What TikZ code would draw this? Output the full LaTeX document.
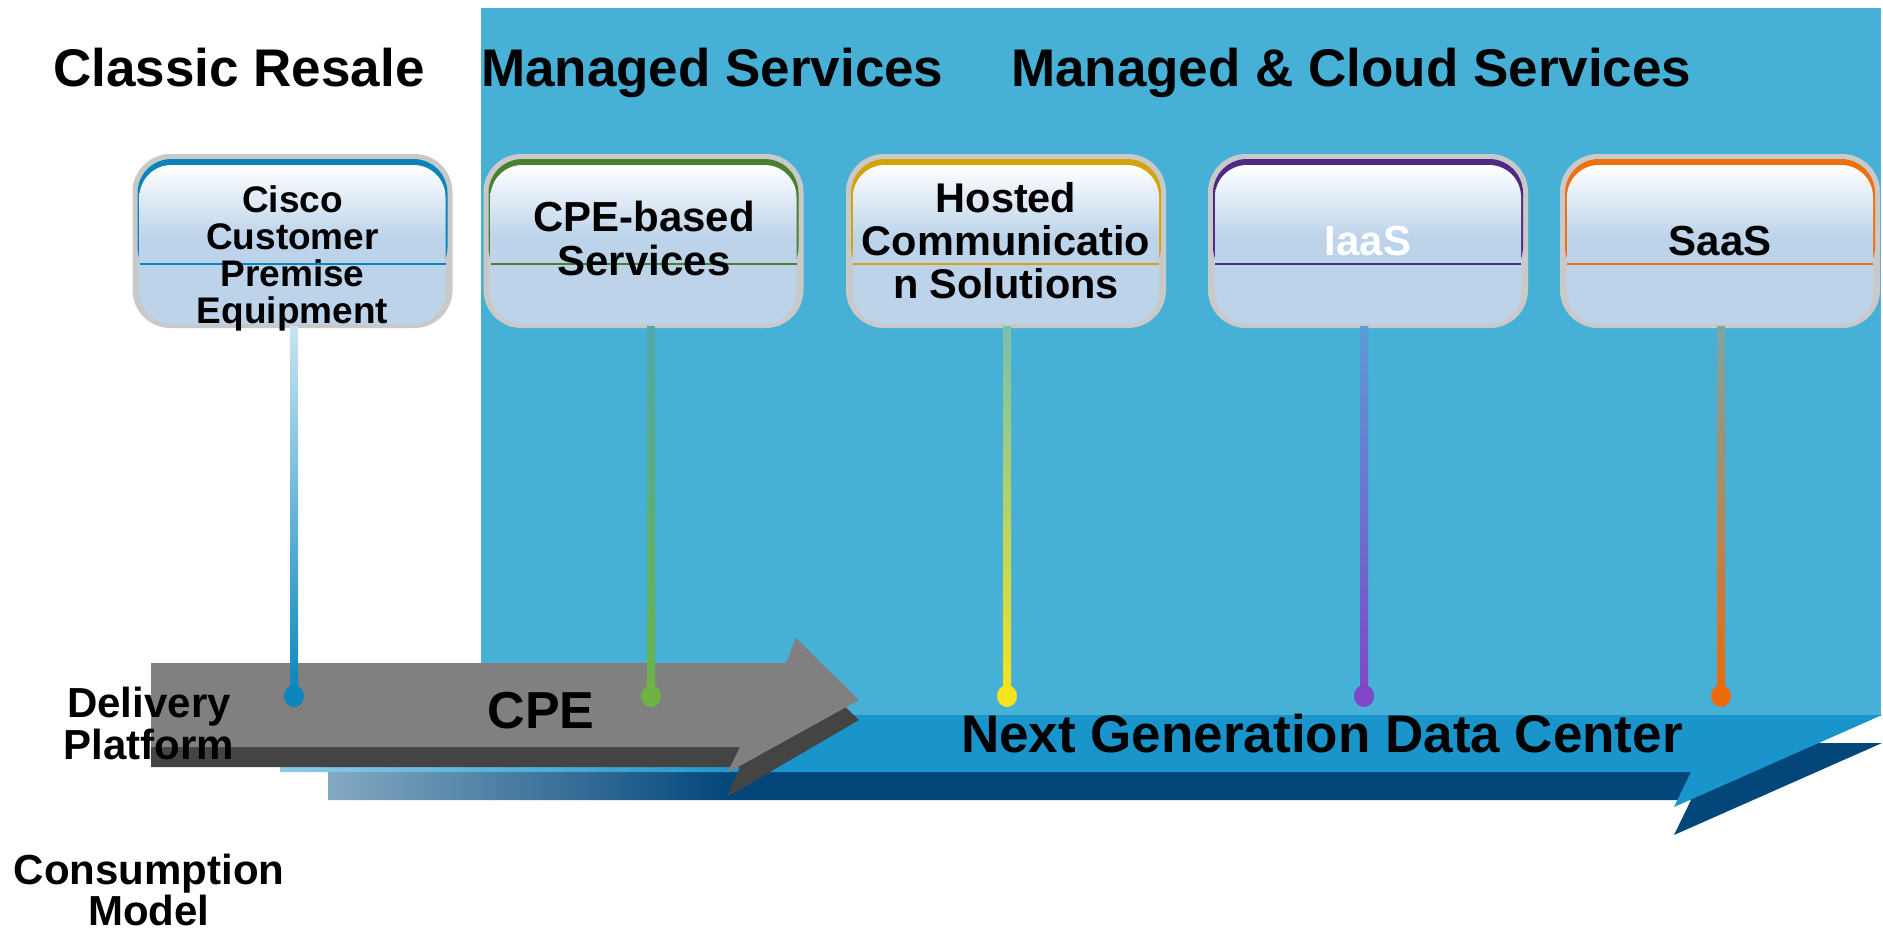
\documentclass[tikz,border=0pt]{standalone}
\usepackage{fontspec}
\setmainfont{Liberation Sans}
\usetikzlibrary{shapes.geometric,calc}

\definecolor{bgblue}{HTML}{46B0D6}
\definecolor{midblue}{HTML}{1A95CB}
\definecolor{lightstrip}{HTML}{8CCBE8}
\definecolor{darkblue}{HTML}{03467A}
\definecolor{fadeblue}{HTML}{84A9C3}
\definecolor{arrgray}{HTML}{808080}
\definecolor{arrdark}{HTML}{444444}
\definecolor{boxgray}{HTML}{C9C9C9}
\definecolor{boxblue}{HTML}{BCD3EA}
\definecolor{cA}{HTML}{0A84BC}
\definecolor{cB}{HTML}{4A8030}
\definecolor{cC}{HTML}{D4A30A}
\definecolor{cD}{HTML}{4E2A84}
\definecolor{cE}{HTML}{F07010}
\definecolor{lAt}{HTML}{C8E5F1}
\definecolor{lAb}{HTML}{0A85BE}
\definecolor{lBt}{HTML}{4FA9A8}
\definecolor{lBb}{HTML}{6CB443}
\definecolor{lCt}{HTML}{78C1AC}
\definecolor{lCb}{HTML}{F6E31C}
\definecolor{lDt}{HTML}{5B9BD6}
\definecolor{lDb}{HTML}{8046C8}
\definecolor{lEt}{HTML}{7CA6A4}
\definecolor{lEb}{HTML}{EC6A0A}

\pgfdeclareverticalshading{boxshade}{100bp}{color(0bp)=(boxblue); color(25bp)=(boxblue); color(52bp)=(boxblue); color(75bp)=(white); color(100bp)=(white)}
\pgfdeclarehorizontalshading{stripfade}{100bp}{color(0bp)=(lightstrip); color(25bp)=(lightstrip); color(40bp)=(midblue); color(100bp)=(midblue)}
\pgfdeclarehorizontalshading{darkfade}{100bp}{color(0bp)=(fadeblue); color(25bp)=(fadeblue); color(38bp)=(darkblue); color(100bp)=(darkblue)}

\newcommand\fs[2]{\fontsize{#1}{#2}\selectfont\bfseries}
\newcommand\stk[1]{\vtop{\halign{\hfil##\hfil\cr#1\crcr}}}

\begin{document}
\begin{tikzpicture}[x=1pt,y=-1pt,
  lbl/.style={inner sep=0pt, outer sep=0pt, anchor=base},
  boxnode/.style={minimum width=320pt, minimum height=174pt, rounded corners=38pt, fill=boxgray, inner sep=0pt, outer sep=0pt},
  dotnode/.style={ellipse, minimum width=20pt, minimum height=22pt, inner sep=0pt}]
\useasboundingbox (0,0) rectangle (1883,932);

% background
\fill[bgblue] (481,8) rectangle (1881,716);

% blue arrow (Next Generation Data Center)
\shade[shading=darkfade] (328,743) -- (1882,743) -- (1674,835) -- (1691,800) -- (328,800) -- cycle;
\shade[shading=stripfade] (280,715) -- (1882,715) -- (1674,807) -- (1691,772) -- (280,772) -- cycle;

% gray arrow (CPE)
\fill[arrdark] (151,685) -- (786,685) -- (796,660) -- (859,720) -- (727,797) -- (740,767) -- (151,767) -- cycle;
\fill[arrgray] (151,663) -- (786,663) -- (796,638) -- (859,700) -- (727,773) -- (740,747) -- (151,747) -- cycle;

% boxes
\foreach \n/\x/\c in {b1/292.5/cA, b2/643.5/cB, b3/1006/cC, b4/1368/cD, b5/1720/cE}{
  \node[boxnode] (\n) at (\x,241) {};
  \fill[\c, rounded corners=34pt] ($(\n.north west)+(5,5)$) rectangle ($(\n.east)+(-5,40)$);
  \shade[shading=boxshade, rounded corners=32pt] ($(\n.north west)+(7,11)$) rectangle ($(\n.south east)+(-7,-4)$);
  \draw[\c, line width=1.2pt] ($(\n.north west)+(7,110)$) -- ($(\n.north east)+(-7,110)$);
}

% connectors
\foreach \i/\x/\t/\b in {1/294/lAt/lAb, 2/651/lBt/lBb, 3/1007/lCt/lCb, 4/1364/lDt/lDb, 5/1721/lEt/lEb}{
  \coordinate (p\i) at (\x,696);
  \shade[top color=\t, bottom color=\b] ($(b\i.south -| p\i)+(-4,-2)$) rectangle ($(p\i)+(4,0)$);
}
\foreach \i/\c in {1/lAb, 2/lBb, 3/lCb, 4/lDb, 5/lEb}{
  \node[dotnode, fill=\c] (d\i) at (p\i) {};
}

% box texts
\node[lbl, font={\fs{37}{37.3}}] (t1) at (292.5,212) {\stk{Cisco\cr Customer\cr Premise\cr Equipment}};
\node[lbl, font={\fs{42}{44}}] (t2) at (644,231) {\stk{CPE-based\cr Services}};
\node[lbl, font={\fs{41.5}{43}}] (t3) at (1006,212) {\stk{Hosted\cr Communicatio\cr n Solutions}};
\node[lbl, font={\fs{42}{44}}, text=white] (t4) at (1368,255) {IaaS};
\node[lbl, font={\fs{42}{44}}] (t5) at (1720,255) {SaaS};

% headings
\node[lbl, font={\fs{53}{56}}] (h1) at (239,86) {Classic Resale};
\node[lbl, font={\fs{53}{56}}, anchor=base west] (h2) at (481,86) {Managed Services};
\node[lbl, font={\fs{53}{56}}, anchor=base west] (h3) at (1011,86) {Managed \& Cloud Services};

% arrow labels
\node[lbl, font={\fs{52}{56}}] (cpe) at (541,728) {CPE};
\node[lbl, font={\fs{53}{56}}] (ngdc) at (1322,752) {Next Generation Data Center};

% side labels
\node[lbl, font={\fs{42}{42}}] (dp) at (149,717) {\stk{Delivery\cr Platform}};
\node[lbl, font={\fs{42}{41}}] (cm) at (149,884) {\stk{Consumption\cr Model}};
\end{tikzpicture}
\end{document}
